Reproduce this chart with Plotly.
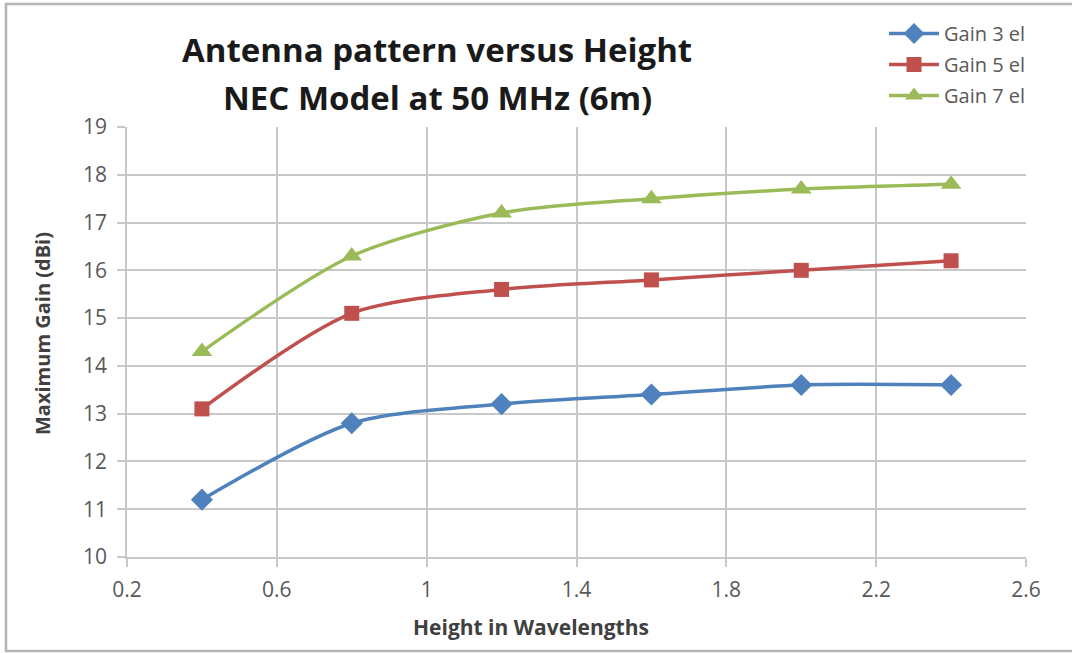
import plotly.graph_objects as go

heights = [0.4, 0.8, 1.2, 1.6, 2.0, 2.4]
gain_3el = [11.2, 12.8, 13.2, 13.4, 13.6, 13.6]
gain_5el = [13.1, 15.1, 15.6, 15.8, 16.0, 16.2]
gain_7el = [14.3, 16.3, 17.2, 17.5, 17.7, 17.8]

series_names = ["Gain 3 el", "Gain 5 el", "Gain 7 el"]
series_colors = ["#4F81BD", "#C0504D", "#9BBB59"]
series_symbols = ["diamond", "square", "triangle-up"]
marker_sizes = [17, 15, 18]
series_values = [gain_3el, gain_5el, gain_7el]

title_lines = ["Antenna pattern versus Height", "NEC Model at 50 MHz (6m)"]
x_title = "Height in Wavelengths"
y_title = "Maximum Gain (dBi)"

W, H = 1072, 653
L, R, T, B = 127, 46, 127, 96
pw, ph = W - L - R, H - T - B

def px_x(px):
    return (px - L) / pw

def px_y(py):
    return (H - B - py) / ph

fig = go.Figure()
for name, col, sym, ms, vals in zip(series_names, series_colors, series_symbols, marker_sizes, series_values):
    fig.add_trace(go.Scatter(
        x=heights, y=vals, name=name, legendgroup=name,
        mode="lines+markers",
        line=dict(color=col, width=3.5, shape="spline", smoothing=0.8),
        marker=dict(symbol=sym, size=ms, color=col),
    ))

font = "'Open Sans', Calibri, sans-serif"
fig.update_layout(
    width=W, height=H,
    margin=dict(l=L, r=R, t=T, b=B),
    paper_bgcolor="white", plot_bgcolor="white",
    font=dict(family=font, color="#595959", size=20),
    showlegend=True,
    legend=dict(
        x=px_x(884), y=px_y(14), xanchor="left", yanchor="top",
        xref="paper", yref="paper",
        font=dict(size=20, color="#595959"),
        tracegroupgap=2, itemwidth=50,
        bgcolor="rgba(0,0,0,0)",
    ),
    xaxis=dict(
        range=[0.2, 2.6], tick0=0.2, dtick=0.4,
        showgrid=True, gridcolor="#C8C8C8", gridwidth=1.5,
        showline=True, linecolor="#C8C8C8", linewidth=1.5,
        ticks="outside", ticklen=8, tickcolor="#C8C8C8", tickwidth=1.5,
        tickfont=dict(size=21, color="#595959"),
        ticklabelstandoff=5,
        zeroline=False,
    ),
    yaxis=dict(
        range=[10, 19], dtick=1,
        showgrid=True, gridcolor="#C8C8C8", gridwidth=1.5,
        showline=True, linecolor="#C8C8C8", linewidth=1.5,
        ticks="outside", ticklen=8, tickcolor="#C8C8C8", tickwidth=1.5,
        tickfont=dict(size=21, color="#595959"),
        ticklabelstandoff=6,
        zeroline=False,
    ),
)

for line, ypix in zip(title_lines, [49, 97]):
    fig.add_annotation(
        text="<b>" + line + "</b>", xref="paper", yref="paper",
        x=px_x(437), y=px_y(ypix), xanchor="center", yanchor="middle",
        showarrow=False, font=dict(family=font, size=33, color="#1a1a1a"),
    )

fig.add_annotation(
    text="<b>" + x_title + "</b>", xref="paper", yref="paper",
    x=px_x(531), y=px_y(627), xanchor="center", yanchor="middle",
    showarrow=False, font=dict(family=font, size=21, color="#404040"),
)
fig.add_annotation(
    text="<b>" + y_title + "</b>", xref="paper", yref="paper",
    x=px_x(42), y=px_y(334), xanchor="center", yanchor="middle", textangle=-90,
    showarrow=False, font=dict(family=font, size=20, color="#404040"),
)

fig.add_shape(type="rect", xref="paper", yref="paper",
              x0=px_x(6), x1=px_x(1100), y0=px_y(651), y1=px_y(4),
              line=dict(color="#B5B5B5", width=2.5), fillcolor="rgba(0,0,0,0)", layer="below")

fig.write_html("out.html", config={"displayModeBar": False},
               post_script="document.body.style.margin='0';")
